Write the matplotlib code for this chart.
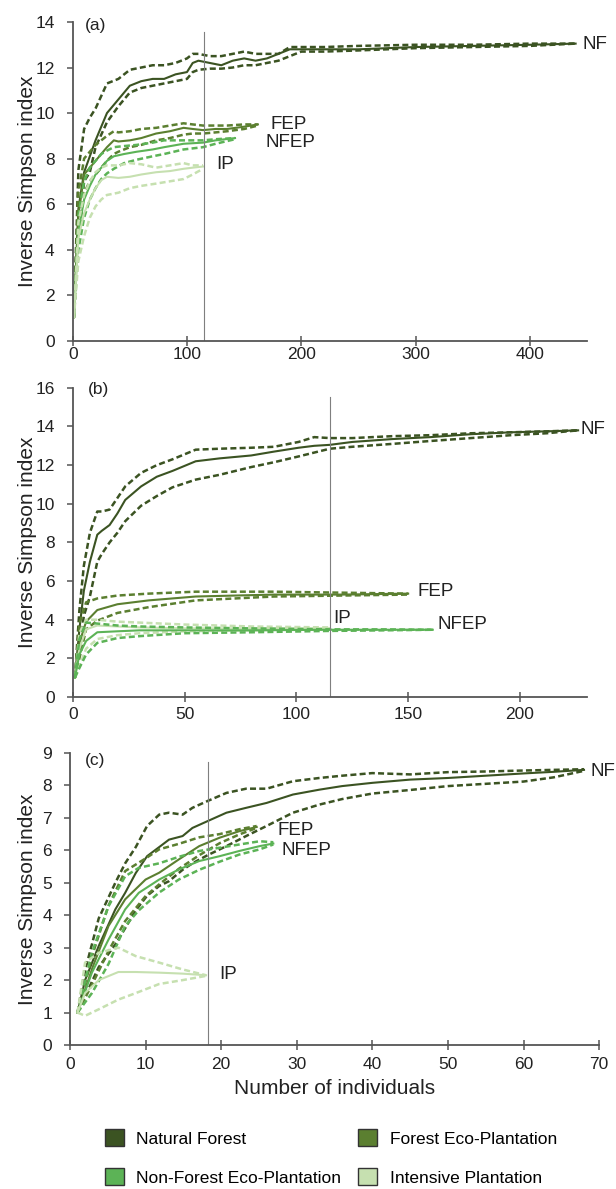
#Curvas de rarefacao do indice inverso de Simpson (3 paineis)
import matplotlib
matplotlib.use("Agg")
import matplotlib.pyplot as plt
from matplotlib.patches import Patch

plt.rcParams['font.family'] = ['Liberation Sans', 'DejaVu Sans']

#CORES
c_nf = '#3b5322'
c_fep = '#5b7f30'
c_nfep = '#5cb356'
c_ip = '#c6e0b0'

#PAINEL (a)
a_nf_x = [1, 5, 10, 15, 20, 30, 40, 50, 60, 70, 80, 90, 100, 105, 110, 120, 130, 140, 150, 160, 170, 180, 190, 200, 220, 250, 300, 350, 400, 440]
a_nf_m = [1, 5.8, 7.4, 8.1, 8.8, 10.0, 10.6, 11.2, 11.4, 11.5, 11.5, 11.7, 11.8, 12.2, 12.3, 12.2, 12.1, 12.3, 12.4, 12.3, 12.4, 12.6, 12.8, 12.8, 12.8, 12.8, 12.9, 12.95, 13.0, 13.05]
a_nf_hi = [1, 7.5, 9.3, 9.8, 10.2, 11.3, 11.5, 11.9, 12.0, 12.1, 12.1, 12.2, 12.4, 12.6, 12.6, 12.5, 12.5, 12.6, 12.7, 12.6, 12.6, 12.6, 12.9, 12.9, 12.9, 12.95, 13.0, 13.0, 13.05, 13.05]
a_nf_lo = [1, 4.5, 7.0, 7.4, 8.5, 9.6, 10.3, 10.9, 11.1, 11.2, 11.3, 11.4, 11.5, 11.8, 11.9, 11.95, 11.95, 12.0, 12.1, 12.1, 12.2, 12.3, 12.5, 12.7, 12.7, 12.75, 12.85, 12.9, 12.95, 13.05]

a_fep_x = [1, 5, 10, 15, 20, 25, 30, 36, 40, 50, 60, 73, 85, 97, 105, 114, 125, 135, 150, 162]
a_fep_m = [1, 5.5, 7.3, 7.6, 7.9, 8.2, 8.5, 8.8, 8.75, 8.8, 8.9, 9.1, 9.2, 9.35, 9.3, 9.25, 9.3, 9.3, 9.4, 9.5]
a_fep_hi = [1, 6.5, 8.0, 8.3, 8.6, 8.8, 9.0, 9.2, 9.15, 9.2, 9.3, 9.35, 9.45, 9.55, 9.5, 9.45, 9.45, 9.45, 9.5, 9.5]
a_fep_lo = [1, 4.5, 6.5, 7.0, 7.3, 7.6, 7.9, 8.2, 8.3, 8.5, 8.6, 8.8, 8.9, 9.05, 9.1, 9.1, 9.15, 9.2, 9.3, 9.45]

a_nfep_x = [1, 5, 10, 15, 20, 25, 30, 36, 45, 56, 70, 80, 97, 114, 125, 142]
a_nfep_m = [1, 4.8, 6.2, 6.8, 7.3, 7.6, 7.9, 8.1, 8.2, 8.3, 8.4, 8.5, 8.65, 8.7, 8.8, 8.9]
a_nfep_hi = [1, 5.5, 7.0, 7.6, 7.9, 8.2, 8.35, 8.5, 8.55, 8.6, 8.7, 8.8, 8.8, 8.8, 8.85, 8.9]
a_nfep_lo = [1, 4.0, 5.4, 6.2, 6.7, 7.1, 7.35, 7.55, 7.8, 7.95, 8.1, 8.2, 8.4, 8.5, 8.65, 8.85]

a_ip_x = [1, 5, 10, 15, 20, 25, 30, 40, 50, 60, 73, 85, 97, 105, 114]
a_ip_m = [1, 4.5, 5.6, 6.2, 6.7, 7.05, 7.2, 7.15, 7.2, 7.3, 7.4, 7.45, 7.55, 7.6, 7.65]
a_ip_hi = [1, 5.2, 6.4, 7.0, 7.4, 7.6, 7.7, 7.7, 7.8, 7.75, 7.6, 7.7, 7.8, 7.7, 7.7]
a_ip_lo = [1, 3.5, 4.6, 5.4, 5.9, 6.2, 6.4, 6.5, 6.7, 6.8, 6.9, 7.0, 7.1, 7.3, 7.55]

#PAINEL (b)
b_nf_x = [1, 3, 5, 7.7, 11, 13, 16.5, 20, 23.5, 30.6, 37.6, 44.6, 55, 65.7, 79.8, 90, 101, 108, 115, 125, 143, 160, 178, 196, 212, 226]
b_nf_m = [1, 3.5, 5.5, 7.0, 8.4, 8.6, 8.9, 9.5, 10.2, 10.9, 11.4, 11.7, 12.2, 12.35, 12.5, 12.7, 12.9, 13.0, 13.05, 13.2, 13.35, 13.45, 13.6, 13.7, 13.75, 13.8]
b_nf_hi = [1, 4.5, 6.8, 8.5, 9.6, 9.6, 9.7, 10.3, 10.9, 11.6, 12.0, 12.3, 12.8, 12.85, 12.9, 12.95, 13.2, 13.45, 13.4, 13.4, 13.5, 13.55, 13.65, 13.7, 13.75, 13.8]
b_nf_lo = [1, 2.5, 4.2, 5.2, 7.0, 7.4, 8.0, 8.5, 9.1, 9.9, 10.4, 10.85, 11.25, 11.5, 11.9, 12.15, 12.45, 12.65, 12.85, 12.95, 13.1, 13.25, 13.4, 13.55, 13.65, 13.8]

b_fep_x = [1, 3, 6, 11, 20, 34, 55, 90, 120, 150]
b_fep_m = [1, 2.8, 3.9, 4.5, 4.8, 5.0, 5.2, 5.3, 5.3, 5.35]
b_fep_hi = [1, 3.8, 4.9, 5.1, 5.25, 5.35, 5.45, 5.45, 5.4, 5.35]
b_fep_lo = [1, 2.0, 3.5, 3.95, 4.35, 4.65, 5.0, 5.2, 5.25, 5.3]

b_nfep_x = [1, 3, 6, 11, 20, 30, 50, 80, 115, 140, 161]
b_nfep_m = [1, 2.2, 2.9, 3.35, 3.4, 3.45, 3.45, 3.45, 3.48, 3.48, 3.48]
b_nfep_hi = [1, 3.0, 3.85, 3.8, 3.7, 3.65, 3.6, 3.55, 3.5, 3.5, 3.48]
b_nfep_lo = [1, 1.5, 2.2, 2.8, 3.05, 3.15, 3.3, 3.35, 3.42, 3.45, 3.48]

b_ip_x = [1, 3, 6, 11, 20, 30, 50, 80, 115]
b_ip_m = [1, 2.5, 3.5, 3.7, 3.65, 3.6, 3.55, 3.55, 3.55]
b_ip_hi = [1, 3.3, 4.0, 4.0, 3.9, 3.85, 3.75, 3.65, 3.6]
b_ip_lo = [1, 1.6, 2.5, 3.0, 3.2, 3.3, 3.4, 3.45, 3.55]

#PAINEL (c)
c_nf_x = [1, 2, 3.8, 6, 7.3, 8.7, 10.2, 11.8, 13.1, 14.9, 16.2, 18.2, 20.7, 23.3, 26, 29.5, 33, 36, 40, 45, 50, 55, 60, 64, 68]
c_nf_m = [1, 2.0, 3.05, 4.18, 4.69, 5.3, 5.82, 6.1, 6.33, 6.44, 6.69, 6.9, 7.16, 7.31, 7.46, 7.72, 7.87, 7.98, 8.08, 8.18, 8.23, 8.3, 8.37, 8.42, 8.48]
c_nf_hi = [1, 2.3, 3.9, 5.0, 5.6, 6.1, 6.75, 7.1, 7.16, 7.1, 7.31, 7.52, 7.77, 7.9, 7.9, 8.13, 8.23, 8.3, 8.38, 8.34, 8.41, 8.43, 8.46, 8.48, 8.5]
c_nf_lo = [1, 1.5, 2.4, 3.1, 3.6, 4.15, 4.6, 4.9, 5.05, 5.4, 5.6, 5.85, 6.13, 6.44, 6.75, 7.16, 7.41, 7.58, 7.75, 7.86, 7.98, 8.05, 8.12, 8.25, 8.45]

c_fep_x = [1, 3, 5.1, 7.3, 10, 11.8, 14.4, 17.1, 19.8, 22.4, 24.7]
c_fep_m = [1, 2.4, 3.67, 4.49, 5.1, 5.31, 5.72, 6.13, 6.39, 6.59, 6.72]
c_fep_hi = [1, 2.8, 4.3, 5.36, 5.75, 6.03, 6.2, 6.4, 6.5, 6.65, 6.75]
c_fep_lo = [1, 1.9, 2.9, 3.82, 4.59, 4.95, 5.43, 5.85, 6.22, 6.49, 6.69]

c_nfep_x = [1, 2.9, 5.1, 7.3, 9.1, 11.8, 14.4, 17.1, 19.8, 22.4, 25.1, 26.9]
c_nfep_m = [1, 2.23, 3.25, 4.18, 4.69, 5.1, 5.41, 5.67, 5.82, 5.98, 6.13, 6.21]
c_nfep_hi = [1, 2.84, 4.28, 5.2, 5.46, 5.6, 5.8, 5.98, 6.08, 6.18, 6.28, 6.25]
c_nfep_lo = [1, 1.6, 2.5, 3.67, 4.15, 4.7, 5.1, 5.4, 5.65, 5.87, 6.03, 6.18]

c_ip_x = [1, 2, 3.8, 6.4, 8.7, 11.8, 14.9, 18]
c_ip_m = [1, 1.6, 2.0, 2.25, 2.25, 2.23, 2.2, 2.15]
c_ip_hi = [1, 2.54, 2.84, 3.0, 2.74, 2.54, 2.33, 2.15]
c_ip_lo = [1, 0.9, 1.1, 1.4, 1.6, 1.88, 2.0, 2.13]

#RÓTULOS (texto, x, y)
a_rotulos = [('NF', 446, 13.0), ('FEP', 173, 9.5), ('NFEP', 169, 8.7), ('IP', 126, 7.75)]
b_rotulos = [('NF', 227, 13.85), ('FEP', 154, 5.45), ('IP', 116.5, 4.05), ('NFEP', 163, 3.73)]
c_rotulos = [('NF', 68.8, 8.44), ('FEP', 27.5, 6.62), ('NFEP', 28, 5.98), ('IP', 19.8, 2.18)]

legenda = ['Natural Forest', 'Forest Eco-Plantation', 'Non-Forest Eco-Plantation', 'Intensive Plantation']


def curva(ax, x, m, hi, lo, cor):
    ax.plot(x, hi, color=cor, lw=1.8, dashes=(2.4, 1.3))
    ax.plot(x, lo, color=cor, lw=1.8, dashes=(2.4, 1.3))
    ax.plot(x, m, color=cor, lw=1.5)


def estilo(ax, xlim, ylim, yticks, xticks, vline, letra, rotulos, xpad, topo_letra, x_letra, ylab_x):
    ax.set_xlim(*xlim)
    ax.set_ylim(*ylim)
    ax.set_yticks(yticks)
    ax.set_xticks(xticks)
    for s in ['top', 'right']:
        ax.spines[s].set_visible(False)
    for s in ['left', 'bottom']:
        ax.spines[s].set_color('#555555')
        ax.spines[s].set_linewidth(1.3)
    ax.tick_params(axis='y', direction='out', length=4, width=1.1, color='#555555', labelsize=12.5, pad=9, labelcolor='#222222')
    ax.tick_params(axis='x', direction='inout', length=7, width=1.1, color='#555555', labelsize=12.5, pad=xpad, labelcolor='#222222')
    ax.axvline(vline, ymax=0.97, color='#7f7f7f', lw=0.8)
    ax.set_ylabel('Inverse Simpson index', fontsize=15, color='#222222')
    ax.yaxis.set_label_coords(ylab_x, 0.5)
    ax.text(x_letra, topo_letra, letra, transform=ax.transAxes, fontsize=12.5, va='top', ha='left', color='#222222')
    for t, x, y in rotulos:
        ax.text(x, y, t, fontsize=13.5, va='center', ha='left', color='#222222', clip_on=False)


fig = plt.figure(figsize=(6.16, 11.89), dpi=100)
ax_a = fig.add_axes([0.118, 0.7135, 0.835, 0.268])
ax_b = fig.add_axes([0.118, 0.4138, 0.835, 0.260])
ax_c = fig.add_axes([0.1136, 0.1211, 0.859, 0.2456])

curva(ax_a, a_nf_x, a_nf_m, a_nf_hi, a_nf_lo, c_nf)
curva(ax_a, a_fep_x, a_fep_m, a_fep_hi, a_fep_lo, c_fep)
curva(ax_a, a_nfep_x, a_nfep_m, a_nfep_hi, a_nfep_lo, c_nfep)
curva(ax_a, a_ip_x, a_ip_m, a_ip_hi, a_ip_lo, c_ip)
estilo(ax_a, (0, 450), (0, 14), range(0, 15, 2), range(0, 401, 100), 115, '(a)', a_rotulos, 1, 1.012, 0.024, -0.07)

curva(ax_b, b_nf_x, b_nf_m, b_nf_hi, b_nf_lo, c_nf)
curva(ax_b, b_fep_x, b_fep_m, b_fep_hi, b_fep_lo, c_fep)
curva(ax_b, b_ip_x, b_ip_m, b_ip_hi, b_ip_lo, c_ip)
curva(ax_b, b_nfep_x, b_nfep_m, b_nfep_hi, b_nfep_lo, c_nfep)
estilo(ax_b, (0, 230), (0, 16), range(0, 17, 2), range(0, 201, 50), 115, '(b)', b_rotulos, 4, 1.02, 0.03, -0.07)

curva(ax_c, c_nf_x, c_nf_m, c_nf_hi, c_nf_lo, c_nf)
curva(ax_c, c_fep_x, c_fep_m, c_fep_hi, c_fep_lo, c_fep)
curva(ax_c, c_nfep_x, c_nfep_m, c_nfep_hi, c_nfep_lo, c_nfep)
curva(ax_c, c_ip_x, c_ip_m, c_ip_hi, c_ip_lo, c_ip)
estilo(ax_c, (0, 70), (0, 9), range(0, 10), range(0, 71, 10), 18.3, '(c)', c_rotulos, 5, 1.0, 0.028, -0.063)
ax_c.set_xlabel('Number of individuals', fontsize=15, color='#222222', labelpad=5)

#LEGENDA (ordem por colunas)
cores = [c_nf, c_fep, c_nfep, c_ip]
ordem = [0, 2, 1, 3]
handles = [Patch(facecolor=cores[i], edgecolor='#333333', lw=1) for i in ordem]
fig.legend(handles, [legenda[i] for i in ordem], ncol=2, loc='center', bbox_to_anchor=(0.537, 0.0265),
           frameon=False, fontsize=12.5, handlelength=1.1, handleheight=1.1, handletextpad=0.7,
           columnspacing=1.0, labelspacing=1.25)

fig.savefig('out.png', dpi=100)
